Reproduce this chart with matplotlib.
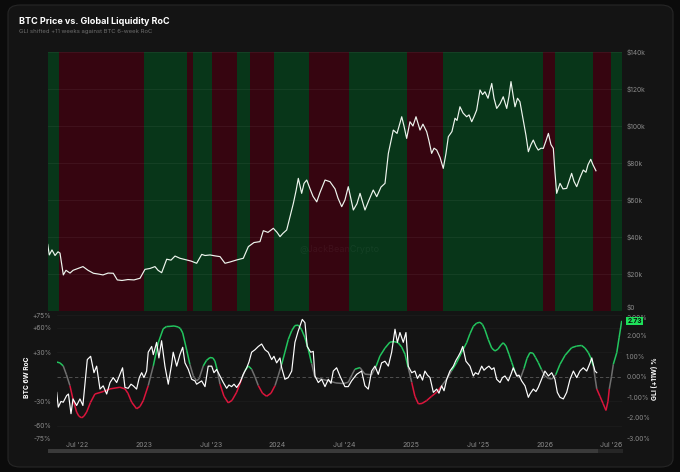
import matplotlib
matplotlib.use('Agg')
import numpy as np
import matplotlib.pyplot as plt
from matplotlib.collections import LineCollection
from matplotlib.patches import FancyBboxPatch, Rectangle

# time axis is in decimal years
band_edges = [2022.279, 2022.364, 2023.002, 2023.322, 2023.367, 2023.509, 2023.696,
              2023.796, 2023.973, 2024.233, 2024.534, 2024.971, 2025.240, 2025.989,
              2026.074, 2026.363, 2026.496, 2026.578]
# 1 = liquidity expanding (green), 0 = contracting (red)
band_regime = [1, 0, 1, 0, 1, 0, 1, 0, 1, 0, 1, 0, 1, 0, 1, 0, 1]

price_t = [2022.279, 2022.291, 2022.311, 2022.334, 2022.356, 2022.371, 2022.396, 2022.416,
           2022.446, 2022.469, 2022.506, 2022.543, 2022.581, 2022.621, 2022.656, 2022.693,
           2022.731, 2022.770, 2022.800, 2022.835, 2022.880, 2022.925, 2022.970, 2023.007,
           2023.045, 2023.082, 2023.105, 2023.132, 2023.170, 2023.202, 2023.232, 2023.269,
           2023.320, 2023.352, 2023.394, 2023.432, 2023.457, 2023.494, 2023.531, 2023.569,
           2023.606, 2023.644, 2023.694, 2023.743, 2023.781, 2023.823, 2023.868, 2023.893,
           2023.928, 2023.968, 2023.996, 2024.018, 2024.040, 2024.068, 2024.093, 2024.118,
           2024.138, 2024.155, 2024.180, 2024.198, 2024.218, 2024.243, 2024.265, 2024.293,
           2024.317, 2024.355, 2024.392, 2024.430, 2024.452, 2024.480, 2024.504, 2024.529,
           2024.567, 2024.594, 2024.617, 2024.654, 2024.684, 2024.716, 2024.742, 2024.774,
           2024.804, 2024.829, 2024.866, 2024.894, 2024.929, 2024.946, 2024.966, 2024.991,
           2025.013, 2025.036, 2025.066, 2025.088, 2025.116, 2025.133, 2025.153, 2025.171,
           2025.191, 2025.216, 2025.240, 2025.260, 2025.278, 2025.305, 2025.328, 2025.343,
           2025.365, 2025.388, 2025.415, 2025.433, 2025.453, 2025.470, 2025.490, 2025.515,
           2025.534, 2025.552, 2025.575, 2025.603, 2025.620, 2025.640, 2025.665, 2025.689,
           2025.715, 2025.732, 2025.747, 2025.762, 2025.777, 2025.796, 2025.814, 2025.839,
           2025.859, 2025.877, 2025.897, 2025.914, 2025.934, 2025.951, 2025.972, 2025.989,
           2026.009, 2026.027, 2026.046, 2026.064, 2026.076, 2026.089, 2026.114, 2026.136,
           2026.164, 2026.181, 2026.201, 2026.219, 2026.239, 2026.263, 2026.288, 2026.308,
           2026.323, 2026.344, 2026.361, 2026.383]
price_k = [36, 30.3, 33, 30, 32, 31.3, 19.5, 22, 20.5, 22, 23, 24, 22, 20.4, 20, 19.5,
           20.5, 20.4, 16.8, 16.5, 17, 16.8, 17.7, 22.5, 23, 24, 22, 20.7, 28, 27.5, 29.7,
           28.5, 27.6, 27, 25.8, 30.6, 30, 30.3, 29.8, 29.4, 25.8, 26.5, 27.6, 28.5, 34.8,
           37, 37.5, 43.4, 42.5, 44.7, 42.5, 40.2, 42, 43.8, 51, 58.2, 65, 71.7, 63.6, 69,
           70.8, 66, 62, 59, 64, 70.8, 69.9, 66, 61, 56.4, 60, 67.2, 54.6, 58, 63.6, 54.6,
           60, 65.4, 61.8, 67, 69, 85.2, 97.8, 96, 105, 100, 93.3, 102.3, 100, 105, 97.8,
           101, 96.9, 92, 85.2, 88, 87, 83, 77.1, 85, 94.2, 97, 104.2, 103, 110.4, 107, 105,
           106, 102.3, 105, 108.6, 119.5, 117, 118.5, 115, 123, 115, 109.5, 112, 115.8,
           109.5, 116, 124, 117, 110.4, 115, 113.1, 103.2, 95, 86.1, 90, 92.4, 89, 87, 88,
           87.9, 92, 96, 90, 87.9, 75, 63.6, 69, 66, 66.3, 70, 74.4, 70, 67.2, 72, 76.2,
           75, 79, 82, 79, 75.8]

# global liquidity rate of change, shifted +11 weeks (%)
gli_t = [2022.347, 2022.371, 2022.396, 2022.420, 2022.446, 2022.469, 2022.496, 2022.513,
         2022.534, 2022.551, 2022.571, 2022.600, 2022.633, 2022.695, 2022.746, 2022.820,
         2022.858, 2022.880, 2022.908, 2022.945, 2022.970, 2022.995, 2023.032, 2023.070,
         2023.107, 2023.144, 2023.168, 2023.195, 2023.225, 2023.257, 2023.273, 2023.290,
         2023.320, 2023.344, 2023.369, 2023.394, 2023.412, 2023.444, 2023.468, 2023.494,
         2023.516, 2023.531, 2023.550, 2023.569, 2023.599, 2023.631, 2023.659, 2023.694,
         2023.731, 2023.756, 2023.781, 2023.806, 2023.831, 2023.856, 2023.887, 2023.918,
         2023.951, 2023.981, 2024.005, 2024.031, 2024.055, 2024.080, 2024.106, 2024.130,
         2024.155, 2024.180, 2024.205, 2024.230, 2024.255, 2024.280, 2024.317, 2024.380,
         2024.437, 2024.492, 2024.529, 2024.557, 2024.579, 2024.617, 2024.654, 2024.704,
         2024.737, 2024.766, 2024.804, 2024.841, 2024.871, 2024.903, 2024.929, 2024.954,
         2024.978, 2025.004, 2025.028, 2025.054, 2025.081, 2025.116, 2025.153, 2025.191,
         2025.228, 2025.266, 2025.303, 2025.341, 2025.378, 2025.415, 2025.440, 2025.465,
         2025.490, 2025.515, 2025.534, 2025.552, 2025.577, 2025.603, 2025.627, 2025.650,
         2025.672, 2025.689, 2025.710, 2025.732, 2025.753, 2025.777, 2025.802, 2025.822,
         2025.844, 2025.867, 2025.889, 2025.912, 2025.930, 2025.951, 2025.976, 2026.001,
         2026.027, 2026.052, 2026.082, 2026.114, 2026.152, 2026.201, 2026.239, 2026.276,
         2026.301, 2026.326, 2026.346, 2026.363, 2026.389, 2026.413, 2026.436, 2026.458,
         2026.473, 2026.483, 2026.499, 2026.513, 2026.539, 2026.556, 2026.576]
gli_pct = [0.72, 0.68, 0.53, 0.10, -0.43, -1.10, -1.72, -1.92, -2.00, -1.92, -1.72, -1.25,
           -0.84, -0.72, -0.59, -0.51, -0.59, -0.80, -1.24, -1.56, -1.45, -1.16, -0.43, 0.53,
           1.66, 2.34, 2.45, 2.46, 2.48, 2.43, 2.35, 2.14, 1.30, 0.60, 0.05, -0.20, -0.10,
           0.53, 0.80, 0.94, 0.92, 0.77, 0.30, -0.35, -0.95, -1.27, -1.15, -0.75, -0.11,
           0.30, 0.53, 0.37, 0.00, -0.43, -0.80, -0.95, -0.80, -0.43, 0.05, 0.61, 1.20, 1.82,
           2.25, 2.50, 2.52, 2.30, 1.90, 1.34, 0.65, -0.03, -0.10, -0.19, -0.30, -0.33,
           -0.27, 0.10, 0.37, 0.45, 0.13, 0.10, 0.50, 1.01, 1.40, 1.69, 1.72, 1.66, 1.45,
           1.10, 0.45, -0.27, -0.95, -1.32, -1.30, -1.16, -0.95, -0.75, -0.45, -0.11, 0.30,
           0.70, 1.20, 1.66, 2.10, 2.46, 2.62, 2.66, 2.55, 2.30, 1.82, 1.40, 1.26, 1.35,
           1.55, 1.66, 1.50, 1.10, 0.70, 0.25, -0.03, 0.00, 0.40, 0.90, 1.18, 1.15, 0.95,
           0.70, 0.35, 0.05, -0.08, -0.11, 0.10, 0.61, 1.05, 1.42, 1.50, 1.53, 1.40, 1.18,
           0.90, 0.53, -0.59, -0.95, -1.30, -1.64, -1.20, -0.59, 0.00, 0.61, 1.18, 1.90, 2.73]

# BTC 6-week rate of change (%)
roc_t = [2022.347, 2022.359, 2022.379, 2022.396, 2022.421, 2022.435, 2022.454, 2022.469,
         2022.496, 2022.521, 2022.543, 2022.558, 2022.576, 2022.601, 2022.626, 2022.646,
         2022.671, 2022.695, 2022.721, 2022.746, 2022.770, 2022.796, 2022.820, 2022.840,
         2022.858, 2022.882, 2022.903, 2022.920, 2022.945, 2022.965, 2022.983, 2023.000,
         2023.020, 2023.032, 2023.058, 2023.070, 2023.095, 2023.112, 2023.132, 2023.157,
         2023.182, 2023.207, 2023.219, 2023.245, 2023.269, 2023.290, 2023.307, 2023.332,
         2023.357, 2023.382, 2023.394, 2023.432, 2023.457, 2023.481, 2023.507, 2023.524,
         2023.544, 2023.569, 2023.594, 2023.619, 2023.636, 2023.656, 2023.674, 2023.694,
         2023.719, 2023.743, 2023.769, 2023.786, 2023.806, 2023.831, 2023.856, 2023.881,
         2023.906, 2023.930, 2023.956, 2023.973, 2023.993, 2024.018, 2024.031, 2024.055,
         2024.080, 2024.106, 2024.130, 2024.153, 2024.168, 2024.185, 2024.205, 2024.222,
         2024.248, 2024.267, 2024.280, 2024.305, 2024.330, 2024.355, 2024.380, 2024.400,
         2024.417, 2024.442, 2024.467, 2024.504, 2024.529, 2024.554, 2024.592, 2024.629,
         2024.654, 2024.679, 2024.704, 2024.729, 2024.754, 2024.779, 2024.804, 2024.829,
         2024.854, 2024.879, 2024.897, 2024.916, 2024.941, 2024.961, 2024.978, 2025.004,
         2025.028, 2025.047, 2025.066, 2025.085, 2025.103, 2025.122, 2025.141, 2025.166,
         2025.191, 2025.208, 2025.228, 2025.246, 2025.266, 2025.290, 2025.316, 2025.335,
         2025.353, 2025.369, 2025.386, 2025.410, 2025.440, 2025.465, 2025.481, 2025.502,
         2025.528, 2025.545, 2025.565, 2025.582, 2025.603, 2025.620, 2025.640, 2025.665,
         2025.683, 2025.702, 2025.727, 2025.747, 2025.764, 2025.790, 2025.807, 2025.827,
         2025.852, 2025.877, 2025.889, 2025.914, 2025.934, 2025.951, 2025.976, 2026.001,
         2026.027, 2026.052, 2026.076, 2026.094, 2026.114, 2026.139, 2026.164, 2026.189,
         2026.214, 2026.239, 2026.263, 2026.288, 2026.314, 2026.339, 2026.352, 2026.363,
         2026.376, 2026.389]
roc_pct = [-19, -37, -30, -31, -23, -21, -45, -27, -35, -27, -35, -10, 21, 25, 5, 13, -15,
           -11, -21, -7, -1, -7, 3, 11, -13, -14, -9, -11, -15, -1, 5, -1, 7, 30, 37, 27, 42,
           23, 44, 13, -9, 15, 30, 13, 27, 36, 17, 9, -3, -5, -9, -5, -12, 13, 13, 5, 9, 1,
           -7, -14, -10, -12, -9, -13, -7, 3, 11, 18, 30, 33, 37, 40, 33, 30, 21, 25, 17, 23,
           11, -3, -1, 7, 42, 55, 62, 70, 66, 37, 30, 31, 1, -7, -3, -12, -3, -8, 7, 11, 1,
           -12, -12, -5, 3, 7, -11, -15, 7, 13, 3, 17, 19, 13, 30, 58, 42, 54, 42, 54, 13, 5,
           7, -2, 3, -4, 7, 2, -1, -19, -15, -20, -11, -17, -3, 7, 13, 20, 25, 30, 37, 19,
           13, 1, 5, 3, 13, 8, 11, 13, 9, 11, -3, -7, -1, 1, -5, 3, 11, 1, 2, -5, -11, -25,
           -21, -15, -18, -13, -3, 7, 1, 5, -3, -19, -25, -27, -19, -3, 7, -1, 7, 11, 7, 17,
           23, 15, 7, 5]

x_ticks = [2022.5, 2023.0, 2023.5, 2024.0, 2024.5, 2025.0, 2025.5, 2026.0, 2026.5]
x_labels = ["Jul '22", "2023", "Jul '23", "2024", "Jul '24", "2025", "Jul '25", "2026", "Jul '26"]
price_ticks = [0, 20, 40, 60, 80, 100, 120, 140]
roc_ticks = [75, 60, 30, -30, -60, -75]
gli_ticks = [3, 2, 1, 0, -1, -2, -3]

W, H = 680.0, 472.0
BG = '#141414'
TXT = '#8a8a8a'


def px_box(x0, y0, x1, y1):
    # pixel box (top-left origin) -> figure fraction rect
    return [x0 / W, 1 - y1 / H, (x1 - x0) / W, (y1 - y0) / H]


def main():
    plt.rcParams['font.family'] = ['Inter', 'DejaVu Sans']

    fig = plt.figure(figsize=(6.8, 4.72), dpi=100, facecolor='#0b0b0b')

    # card behind everything
    card = FancyBboxPatch((8 / W, 5 / H), 665 / W, 462 / H,
                          boxstyle='round,pad=0,rounding_size=0.018',
                          transform=fig.transFigure, facecolor=BG,
                          edgecolor='#262626', lw=0.8, zorder=-10)
    fig.add_artist(card)

    fig.text(19 / W, 1 - 21 / H, 'BTC Price vs. Global Liquidity RoC', color='white',
             fontsize=6.5, fontweight='bold', va='center')
    fig.text(19 / W, 1 - 32 / H, 'GLI shifted +11 weeks against BTC 6-week RoC', color='#6e6e6e',
             fontsize=4.3, va='center')

    # ---- top: price over liquidity regime bands
    ax1 = fig.add_axes(px_box(47.7, 52, 622, 311))
    ax1.set_facecolor(BG)
    for i in range(len(band_regime)):
        c = '#083619' if band_regime[i] else '#360510'
        ax1.axvspan(band_edges[i], band_edges[i + 1], color=c, lw=0, zorder=0)
    ax1.plot(price_t, price_k, color='#eef5ee', lw=0.85, zorder=3)
    ax1.set_xlim(band_edges[0], band_edges[-1])
    ax1.set_ylim(0, 140)
    ax1.yaxis.tick_right()
    ax1.set_yticks(price_ticks)
    ax1.set_yticklabels(['$0' if v == 0 else '$%dk' % v for v in price_ticks])
    ax1.tick_params(axis='y', length=0, pad=3, labelsize=4.8, labelcolor=TXT)
    # keep "$0" just above the bottom panel's top label
    ax1.get_yticklabels()[0].set_va('bottom')
    ax1.set_xticks([])
    ax1.grid(axis='y', color='white', alpha=0.06, lw=0.6, zorder=1)
    ax1.set_axisbelow(False)
    for s in ax1.spines.values():
        s.set_visible(False)
    ax1.text(2024.467, 33, '@JackBeanCrypto', color='white', alpha=0.05, fontsize=6.5,
             ha='center', va='center', zorder=2)

    # ---- bottom: BTC RoC vs GLI RoC
    ax2 = fig.add_axes(px_box(56.7, 315.3, 622, 438.3))
    ax3 = ax2.twinx()
    ax2.set_zorder(ax3.get_zorder() + 1)
    ax2.patch.set_visible(False)

    ax2.set_xlim(gli_t[0], band_edges[-1])
    ax2.set_ylim(-75, 75)
    ax3.set_ylim(-3, 3)

    ax2.axhline(0, color='#5a5a5a', lw=0.6, ls=(0, (4, 3)), zorder=1)
    ax2.plot(roc_t, roc_pct, color='white', lw=0.85, zorder=3)

    # colour the GLI line by sign, grey near zero
    pts = np.column_stack([gli_t, gli_pct])
    segs = np.stack([pts[:-1], pts[1:]], axis=1)
    mid = (np.array(gli_pct[:-1]) + np.array(gli_pct[1:])) / 2
    cols = ['#22c55e' if m > 0.35 else '#dc143c' if m < -0.35 else '#707070' for m in mid]
    ax3.add_collection(LineCollection(segs, colors=cols, lw=1.1))

    ax2.set_yticks(roc_ticks)
    ax2.set_yticklabels(['%+d%%' % v for v in roc_ticks])
    ax2.tick_params(axis='y', length=0, pad=4, labelsize=4.8, labelcolor=TXT)
    ax3.set_yticks(gli_ticks)
    ax3.set_yticklabels(['%.2f%%' % v for v in gli_ticks])
    ax3.tick_params(axis='y', length=0, pad=3, labelsize=4.8, labelcolor=TXT)
    ax3.get_yticklabels()[0].set_va('top')
    ax2.set_xticks(x_ticks)
    ax2.set_xticklabels(x_labels)
    ax2.tick_params(axis='x', length=0, pad=3, labelsize=5, labelcolor=TXT)
    ax2.grid(axis='y', color='white', alpha=0.04, lw=0.5)
    for a in (ax2, ax3):
        for s in a.spines.values():
            s.set_visible(False)

    # last value badge
    ax3.annotate('%.2f' % gli_pct[-1], xy=(1.0, gli_pct[-1]), xycoords=('axes fraction', 'data'),
                 xytext=(4, 0), textcoords='offset points', color='#0b0b0b', fontsize=4.8,
                 fontweight='bold', va='center', ha='left',
                 bbox=dict(boxstyle='square,pad=0.2', fc='#1ee05a', ec='none'))

    fig.text(27 / W, 1 - 377 / H, 'BTC 6W RoC', color='white', fontsize=4.8, fontweight='bold',
             rotation=90, ha='center', va='center')
    fig.text(654 / W, 1 - 379 / H, 'GLI (+11W) %', color='white', fontsize=4.8, fontweight='bold',
             rotation=90, ha='center', va='center')

    # navigator strip under the x axis
    fig.add_artist(Rectangle((48 / W, 1 - 453 / H), 550 / W, 4 / H, transform=fig.transFigure,
                             facecolor='#3a3a3a', lw=0))
    fig.add_artist(Rectangle((598 / W, 1 - 453 / H), 25 / W, 4 / H, transform=fig.transFigure,
                             facecolor='#262626', lw=0))

    fig.savefig('out.png', dpi=100, facecolor=fig.get_facecolor())


if __name__ == "__main__":
    main()
